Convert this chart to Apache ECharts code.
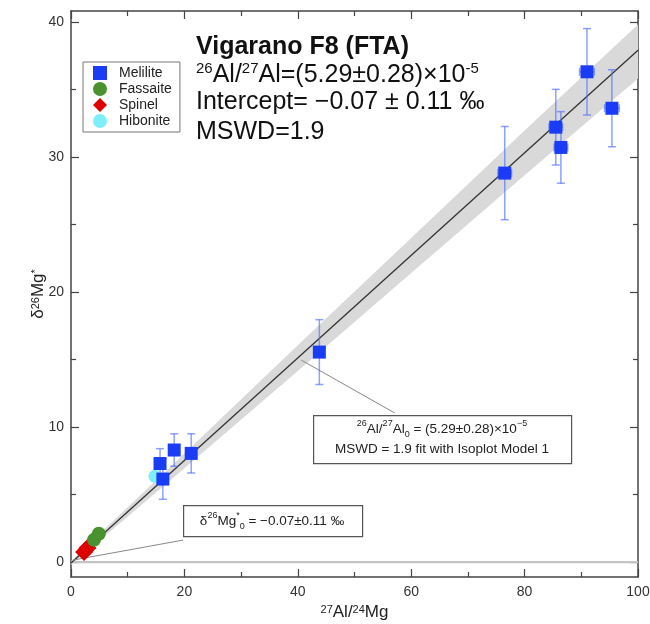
<!DOCTYPE html>
<html><head><meta charset="utf-8">
<script src="https://cdn.jsdelivr.net/npm/echarts@6/dist/echarts.min.js"></script>
<style>html,body{margin:0;padding:0;background:#fff}#c{width:650px;height:624px}</style>
</head><body><div id="c"></div>
<script>
// ---- data ----
const yMajor = [0, 10, 20, 30, 40];
const yMinor = [5, 15, 25, 35];

const melX = [15.7, 16.2, 18.2, 21.2, 43.8, 76.5, 85.5, 86.4, 91.0, 95.4];
const melY = [7.3, 6.15, 8.3, 8.05, 15.55, 28.8, 32.2, 30.7, 36.3, 33.6];
const melYErr = [1.1, 1.5, 1.2, 1.45, 2.4, 3.45, 2.8, 2.65, 3.2, 2.85];
const melXErr = [0.6, 0.6, 0.6, 0.6, 0.8, 1.2, 1.2, 1.2, 1.3, 1.3];

const fasX = [4.05, 4.9];
const fasY = [1.65, 2.1];
const spiX = [2.3, 2.9];
const spiY = [0.75, 1.05];
const hibX = [14.8];
const hibY = [6.35];
const hibXErr = [0.9];

const fitX = [0, 100];
const fitY = [-0.07, 37.9];
const bandX = [0, 20, 40, 60, 80, 100];
const bandLow = [-0.22, 6.95, 14.15, 21.4, 28.65, 35.8];
const bandHigh = [0.08, 8.05, 16.05, 24.0, 31.95, 39.8];
const zeroX = [0, 100];
const zeroY = [0, 0];
const leader1X = [40.6, 57.1], leader1Y = [14.96, 11.04];
const leader2X = [0.35, 19.75], leader2Y = [0.15, 1.63];

// ---- chart ----
const F = 'Liberation Sans, Arial, Helvetica, sans-serif';
const chart = echarts.init(document.getElementById('c'), null, {renderer: 'canvas'});
const axisLineStyle = {color: '#444', width: 1.5};
const zip = (a, b) => a.map((v, i) => [v, b[i]]);

function errRender(color, cap) {
  return function (params, api) {
    const x = api.value(0), y = api.value(1), ey = api.value(2), ex = api.value(3);
    const st = {stroke: color, lineWidth: 1.5};
    const ch = [];
    if (ey > 0) {
      const t = api.coord([x, y + ey]), b = api.coord([x, y - ey]);
      ch.push({type: 'line', shape: {x1: t[0], y1: t[1], x2: b[0], y2: b[1]}, style: st});
      ch.push({type: 'line', shape: {x1: t[0] - cap, y1: t[1], x2: t[0] + cap, y2: t[1]}, style: st});
      ch.push({type: 'line', shape: {x1: b[0] - cap, y1: b[1], x2: b[0] + cap, y2: b[1]}, style: st});
    }
    if (ex > 0) {
      const l = api.coord([x - ex, y]), r = api.coord([x + ex, y]);
      ch.push({type: 'line', shape: {x1: l[0], y1: l[1], x2: r[0], y2: r[1]}, style: st});
      ch.push({type: 'line', shape: {x1: l[0], y1: l[1] - cap, x2: l[0], y2: l[1] + cap}, style: st});
      ch.push({type: 'line', shape: {x1: r[0], y1: r[1] - cap, x2: r[0], y2: r[1] + cap}, style: st});
    }
    return {type: 'group', children: ch};
  };
}

const xBase = {
  type: 'value', min: 0, max: 100, interval: 20,
  splitLine: {show: false},
  axisLine: {show: true, lineStyle: axisLineStyle, onZero: false},
  axisTick: {show: true, inside: true, length: 8, lineStyle: {color: '#444', width: 1.2}},
  minorTick: {show: true, splitNumber: 2, length: 5, lineStyle: {color: '#444', width: 1.2}},
};
const yBase = {
  type: 'value', min: -1.1, max: 40.8,
  splitLine: {show: false},
  axisLine: {show: false, onZero: false},
};

const rich = {
  n: {fontSize: 17, fontFamily: F, color: '#222'},
  s: {fontSize: 11, fontFamily: F, color: '#222', verticalAlign: 'top', lineHeight: 10}
};

chart.setOption({
  animation: false,
  backgroundColor: '#fff',
  grid: {left: 71, right: 12, top: 11, bottom: 47, containLabel: false, outerBoundsMode: 'none'},
  xAxis: [
    Object.assign({}, xBase, {
      position: 'bottom',
      axisLabel: {fontSize: 14, color: '#333', fontFamily: F, margin: 8},
      name: '{s|27}{n|Al/}{s|24}{n|Mg}', nameLocation: 'middle', nameGap: 27, nameMoveOverlap: false,
      nameTextStyle: {rich: rich}
    }),
    Object.assign({}, xBase, {position: 'top', axisLabel: {show: false}})
  ],
  yAxis: [
    Object.assign({}, yBase, {
      position: 'left',
      axisLine: {show: true, lineStyle: axisLineStyle, onZero: false},
      axisTick: {show: true, inside: true, length: 8, customValues: yMajor, lineStyle: {color: '#444', width: 1.2}},
      axisLabel: {show: true, customValues: yMajor, fontSize: 14, color: '#333', fontFamily: F, margin: 7},
      name: '{n|δ}{s|26}{n|Mg}{s|*}', nameLocation: 'middle', nameRotate: 90, nameGap: 24, nameMoveOverlap: false,
      nameTextStyle: {rich: rich}
    }),
    Object.assign({}, yBase, {
      position: 'left',
      axisTick: {show: true, inside: true, length: 5, customValues: yMinor, lineStyle: {color: '#444', width: 1.2}},
      axisLabel: {show: false}
    }),
    Object.assign({}, yBase, {
      position: 'right',
      axisLine: {show: true, lineStyle: axisLineStyle, onZero: false},
      axisTick: {show: true, inside: true, length: 8, customValues: yMajor, lineStyle: {color: '#444', width: 1.2}},
      axisLabel: {show: false}
    }),
    Object.assign({}, yBase, {
      position: 'right',
      axisTick: {show: true, inside: true, length: 5, customValues: yMinor, lineStyle: {color: '#444', width: 1.2}},
      axisLabel: {show: false}
    })
  ],
  legend: {
    left: 83, top: 62, orient: 'vertical',
    borderColor: '#777', borderWidth: 1, borderRadius: 0,
    padding: [4, 8, 4, 10], itemGap: 2, itemWidth: 14, itemHeight: 14,
    textStyle: {fontSize: 14, color: '#222', fontFamily: F, padding: [0, 0, 0, 7]},
    data: [
      {name: 'Melilite', icon: 'rect'},
      {name: 'Fassaite', icon: 'circle'},
      {name: 'Spinel', icon: 'diamond'},
      {name: 'Hibonite', icon: 'circle'}
    ],
    selectedMode: false
  },
  series: [
    {
      name: 'band', type: 'custom', silent: true, z: 1,
      data: [[0, 0]],
      renderItem: function (params, api) {
        const pts = [];
        for (let i = 0; i < bandX.length; i++) pts.push(api.coord([bandX[i], bandHigh[i]]));
        for (let i = bandX.length - 1; i >= 0; i--) pts.push(api.coord([bandX[i], bandLow[i]]));
        return {type: 'polygon', shape: {points: pts}, style: {fill: '#d9d9d9'}};
      }
    },
    {
      name: 'zero', type: 'line', silent: true, z: 1, symbol: 'none',
      data: zip(zeroX, zeroY), lineStyle: {color: '#c4c4c4', width: 2.2}
    },
    {
      name: 'fit', type: 'line', silent: true, z: 3, symbol: 'none',
      data: zip(fitX, fitY), lineStyle: {color: '#333', width: 1.3}
    },
    {
      name: 'lead1', type: 'line', silent: true, z: 3, symbol: 'none',
      data: zip(leader1X, leader1Y), lineStyle: {color: '#888', width: 1}
    },
    {
      name: 'lead2', type: 'line', silent: true, z: 3, symbol: 'none',
      data: zip(leader2X, leader2Y), lineStyle: {color: '#888', width: 1}
    },
    {
      name: 'melErr', type: 'custom', silent: true, z: 4,
      encode: {x: 0, y: 1},
      data: melX.map((x, i) => [x, melY[i], melYErr[i], melXErr[i]]),
      renderItem: errRender('rgba(80,110,255,0.65)', 4)
    },
    {
      name: 'hibErr', type: 'custom', silent: true, z: 4,
      encode: {x: 0, y: 1},
      data: hibX.map((x, i) => [x, hibY[i], 0, hibXErr[i]]),
      renderItem: errRender('rgba(120,235,250,0.9)', 3)
    },
    {
      name: 'Hibonite', type: 'scatter', z: 5, symbol: 'circle', symbolSize: 13,
      itemStyle: {color: '#80eef8', opacity: 1}, data: zip(hibX, hibY)
    },
    {
      name: 'Melilite', type: 'scatter', z: 5, symbol: 'rect', symbolSize: 13,
      itemStyle: {color: '#1a3cf5', opacity: 1}, data: zip(melX, melY)
    },
    {
      name: 'Spinel', type: 'scatter', z: 5, symbol: 'diamond', symbolSize: 18,
      itemStyle: {color: '#dd0000', opacity: 1}, data: zip(spiX, spiY)
    },
    {
      name: 'Fassaite', type: 'scatter', z: 5, symbol: 'circle', symbolSize: 14,
      itemStyle: {color: '#4a9130', opacity: 1}, data: zip(fasX, fasY)
    }
  ],
  graphic: [
    {type: 'text', left: 196, top: 35, z: 10, style: {text: 'Vigarano F8 (FTA)', font: 'bold 25px ' + F, fill: '#111'}},
    {type: 'text', left: 196, top: 61, z: 10, style: {
      text: '{s|26}{n|Al/}{s|27}{n|Al=(5.29±0.28)×10}{s|-5}',
      rich: {
        n: {fontSize: 25, lineHeight: 29, fontFamily: F, fill: '#111'},
        s: {fontSize: 15, lineHeight: 15, verticalAlign: 'top', fontFamily: F, fill: '#111'}
      }}},
    {type: 'text', left: 196, top: 90, z: 10, style: {text: 'Intercept= −0.07 ± 0.11 ‰', font: '25px ' + F, fill: '#111'}},
    {type: 'text', left: 196, top: 120, z: 10, style: {text: 'MSWD=1.9', font: '25px ' + F, fill: '#111'}},

    {type: 'rect', left: 313, top: 415, z: 10, shape: {width: 258, height: 48}, style: {fill: '#fff', stroke: '#555', lineWidth: 1.2}},
    {type: 'text', x: 442, y: 439, z: 11, style: {
      text: '{s|26}{n|Al/}{s|27}{n|Al}{b|0}{n| = (5.29±0.28)×10}{s|−5}\n{n|MSWD = 1.9 fit with Isoplot Model 1}',
      align: 'center', verticalAlign: 'middle',
      rich: {
        n: {fontSize: 13.5, lineHeight: 20, fontFamily: F, fill: '#222', align: 'center'},
        s: {fontSize: 9, lineHeight: 9, verticalAlign: 'top', fontFamily: F, fill: '#222'},
        b: {fontSize: 9, lineHeight: 9, verticalAlign: 'bottom', fontFamily: F, fill: '#222'}
      }}},

    {type: 'rect', left: 183, top: 505, z: 10, shape: {width: 179, height: 31}, style: {fill: '#fff', stroke: '#555', lineWidth: 1.2}},
    {type: 'text', x: 272, y: 521, z: 11, style: {
      text: '{n|δ}{s|26}{n|Mg}{s|*}{b|0}{n| = −0.07±0.11 ‰}',
      align: 'center', verticalAlign: 'middle',
      rich: {
        n: {fontSize: 13.5, lineHeight: 20, fontFamily: F, fill: '#222'},
        s: {fontSize: 9, lineHeight: 9, verticalAlign: 'top', fontFamily: F, fill: '#222'},
        b: {fontSize: 9, lineHeight: 9, verticalAlign: 'bottom', fontFamily: F, fill: '#222'}
      }}}
  ]
});
</script>
</body></html>
